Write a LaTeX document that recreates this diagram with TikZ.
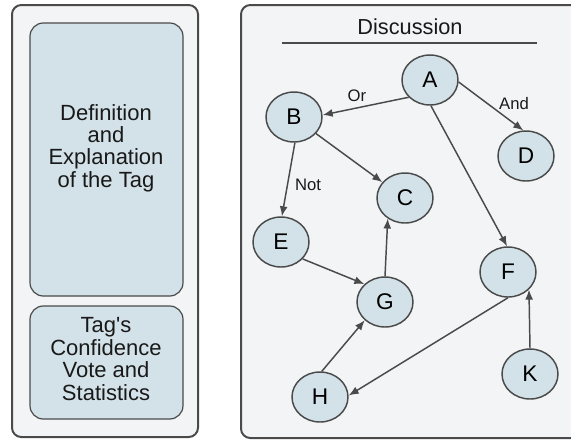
\documentclass[tikz,border=0pt]{standalone}
\usepackage{fontspec}
\setmainfont{Liberation Sans}
% same face without TeX quote ligatures, for a straight apostrophe
\newfontfamily\plainsans{Liberation Sans}
\usetikzlibrary{arrows.meta,shapes.geometric}
\definecolor{panelfill}{HTML}{F2F4F6}
\definecolor{boxfill}{HTML}{D3E2E8}
\definecolor{edgegray}{HTML}{4A4A4A}
\tikzset{
  panel/.style={draw=edgegray, line width=1.5pt, fill=panelfill, rounded corners=7pt},
  infobox/.style={draw=edgegray, line width=0.9pt, fill=boxfill, rounded corners=10pt},
  topic/.style={ellipse, draw=edgegray, line width=1.1pt, fill=boxfill,
    minimum width=42pt, minimum height=37.5pt, inner sep=0pt,
    font=\fontsize{17}{19}\selectfont},
  rel/.style={draw=edgegray, line width=1.1pt, -{Latex[length=7.5pt,width=6pt]}},
  rellabel/.style={font=\fontsize{12.5}{14}\selectfont, text=black!90},
  boxtext/.style={align=center, font=\fontsize{16.5}{16.8}\selectfont, text=black!90}
}
\begin{document}
\begin{tikzpicture}[x=0.75pt, y=-0.75pt]
  \useasboundingbox[fill=white] (0,0) rectangle (571,440);

  % left panel: tag description
  \draw[panel] (12,5) rectangle (198,437);
  \draw[infobox] (30,23) rectangle (183,296);
  \draw[infobox] (30,306) rectangle (183,419);
  \node[boxtext] (def) at (106,148) {Definition\\and\\Explanation\\of the Tag};
  \node[boxtext] (conf) at (106,359) {{\plainsans Tag's}\\Confidence\\Vote and\\Statistics};

  % right panel: discussion graph
  \begin{scope}
    \clip (0,0) rectangle (571,440);
    \draw[panel] (241,5) rectangle (600,438);
  \end{scope}
  \node[font=\fontsize{16.3}{18}\selectfont, text=black!90] (title) at (410,27) {Discussion};
  \coordinate (ruleL) at (282,43);
  \coordinate (ruleR) at (537,43);
  \draw[edgegray, line width=1.4pt] (ruleL) -- (ruleR);

  \node[topic] (A) at (430,80) {A};
  \node[topic] (B) at (294,117) {B};
  \node[topic] (D) at (526,156) {D};
  \node[topic] (C) at (405,198) {C};
  \node[topic] (E) at (281,242) {E};
  \node[topic] (G) at (385,302) {G};
  \node[topic] (F) at (508,272) {F};
  \node[topic] (H) at (320,397) {H};
  \node[topic] (K) at (530,374) {K};

  \draw[rel] (A.219) -- (B.4);
  \draw[rel] (A.-4) -- (D.96);
  \draw[rel] (A.-88) -- (F.92);
  \draw[rel] (B.-37) -- (C.145);
  \draw[rel] (B.-88) -- (E.88);
  \draw[rel] (E.-38) -- (G.139);
  \draw[rel] (G.90) -- (C.-130);
  \draw[rel] (H.86) -- (G.222);
  \draw[rel] (F.-90) -- (H.3);
  \draw[rel] (K.90) -- (F.-40);

  \node[rellabel] (lor) at (357,96) {Or};
  \node[rellabel] (land) at (514,104) {And};
  \node[rellabel] (lnot) at (308,185) {Not};
\end{tikzpicture}
\end{document}
